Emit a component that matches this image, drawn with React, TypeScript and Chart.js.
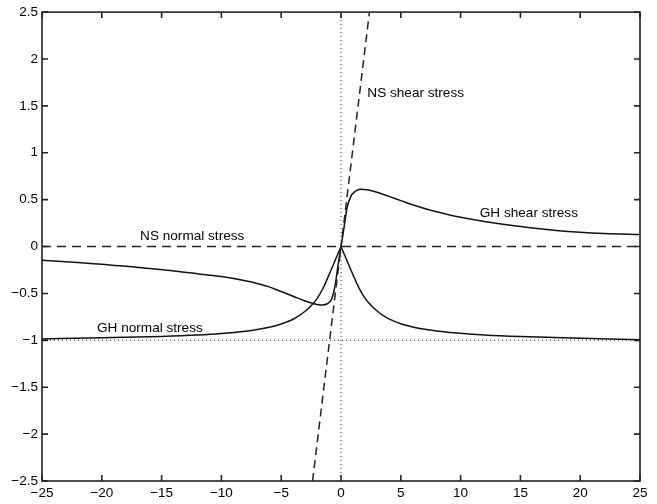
import { useEffect, useRef } from 'react';
import { Chart, registerables } from 'chart.js';

Chart.register(...registerables);

const X_TICKS = [-25, -20, -15, -10, -5, 0, 5, 10, 15, 20, 25];
const Y_TICKS = [-2.5, -2, -1.5, -1, -0.5, 0, 0.5, 1, 1.5, 2, 2.5];

// GH shear stress
const ghShearX = [-25, -22, -20, -18, -16, -14, -12, -10, -8, -6, -5, -4, -3, -2.4, -1.9, -1.5, -1.15, -0.9, -0.7, -0.5, -0.25, 0, 0.25, 0.5, 0.8, 1.2, 1.65, 2.2, 3, 4, 5, 6, 7, 8, 9, 10, 12, 14, 16, 18, 20, 22, 25];
const ghShearY = [-0.145, -0.17, -0.19, -0.21, -0.235, -0.26, -0.29, -0.32, -0.365, -0.43, -0.48, -0.53, -0.58, -0.605, -0.62, -0.622, -0.61, -0.585, -0.53, -0.42, -0.2, 0, 0.2, 0.41, 0.53, 0.59, 0.612, 0.605, 0.58, 0.535, 0.49, 0.445, 0.405, 0.37, 0.34, 0.313, 0.268, 0.23, 0.198, 0.172, 0.153, 0.14, 0.128];

// GH normal stress (left and right branches meet at the cusp at 0)
const ghNormalLeftX = [-25, -20, -15, -12, -10, -8, -7, -6, -5, -4, -3.5, -3, -2.5, -2, -1.5, -1, -0.6, -0.3, 0];
const ghNormalLeftY = [-0.985, -0.973, -0.958, -0.943, -0.927, -0.902, -0.884, -0.86, -0.825, -0.775, -0.737, -0.69, -0.632, -0.555, -0.445, -0.3, -0.18, -0.09, 0];
const ghNormalRightX = [0, 0.3, 0.6, 1, 1.5, 2, 2.5, 3, 3.5, 4, 5, 6, 7, 8, 10, 12, 15, 20, 25];
const ghNormalRightY = [0, -0.09, -0.18, -0.3, -0.44, -0.55, -0.625, -0.685, -0.735, -0.772, -0.823, -0.857, -0.882, -0.9, -0.925, -0.943, -0.96, -0.979, -0.993];

// NS shear stress (dashed straight line)
const nsShearX = [-2.38, 2.38];
const nsShearY = [-2.5, 2.5];

// NS normal stress (dashed zero line)
const nsNormalX = [-25, 25];
const nsNormalY = [0, 0];

// dotted reference lines
const refVertX = [0, 0];
const refVertY = [-2.5, 2.5];
const refHorzX = [-25, 25];
const refHorzY = [-1, -1];

// curve labels
const labelTexts = ['NS shear stress', 'GH shear stress', 'NS normal stress', 'GH normal stress'];
const labelX = [2.2, 11.6, -16.8, -20.4];
const labelY = [1.64, 0.36, 0.11, -0.875];

const FONT = '"Liberation Sans", Arial, Helvetica, sans-serif';

const pts = (xs: number[], ys: number[]) => xs.map((x, i) => ({ x, y: ys[i] }));
const fmt = (v: number) => (v < 0 ? '\u2212' : '') + String(Math.abs(v));

export default function App() {
  const ref = useRef<HTMLCanvasElement | null>(null);

  useEffect(() => {
    if (!ref.current) return;

    const framePlugin = {
      id: 'frame',
      afterDatasetsDraw(chart: any) {
        const { ctx, chartArea: a, scales } = chart;
        const xs = scales.x;
        const ys = scales.y;
        ctx.save();
        ctx.fillStyle = '#000';
        ctx.font = `13.6px ${FONT}`;
        ctx.textAlign = 'left';
        ctx.textBaseline = 'middle';
        labelTexts.forEach((t, i) => {
          ctx.fillText(t, xs.getPixelForValue(labelX[i]), ys.getPixelForValue(labelY[i]));
        });
        ctx.strokeStyle = '#222';
        ctx.lineWidth = 1.6;
        ctx.strokeRect(a.left, a.top, a.right - a.left, a.bottom - a.top);
        const L = 6;
        ctx.beginPath();
        X_TICKS.forEach((v) => {
          const p = xs.getPixelForValue(v);
          ctx.moveTo(p, a.bottom);
          ctx.lineTo(p, a.bottom - L);
          ctx.moveTo(p, a.top);
          ctx.lineTo(p, a.top + L);
        });
        Y_TICKS.forEach((v) => {
          const p = ys.getPixelForValue(v);
          ctx.moveTo(a.left, p);
          ctx.lineTo(a.left + L, p);
          ctx.moveTo(a.right, p);
          ctx.lineTo(a.right - L, p);
        });
        ctx.stroke();
        ctx.restore();
      },
    };

    const solid = (data: any) => ({
      data,
      showLine: true,
      borderColor: '#111',
      borderWidth: 1.5,
      pointRadius: 0,
      cubicInterpolationMode: 'monotone',
    });

    const chart = new Chart(ref.current, {
      type: 'scatter',
      data: {
        datasets: [
          {
            data: pts(refVertX, refVertY),
            showLine: true,
            borderColor: '#333',
            borderWidth: 1,
            borderDash: [1, 3],
            pointRadius: 0,
          },
          {
            data: pts(refHorzX, refHorzY),
            showLine: true,
            borderColor: '#333',
            borderWidth: 1,
            borderDash: [1, 3],
            pointRadius: 0,
          },
          {
            data: pts(nsNormalX, nsNormalY),
            showLine: true,
            borderColor: '#222',
            borderWidth: 1.5,
            borderDash: [9, 6],
            pointRadius: 0,
          },
          {
            data: pts(nsShearX, nsShearY),
            showLine: true,
            borderColor: '#222',
            borderWidth: 1.5,
            borderDash: [8, 5],
            pointRadius: 0,
          },
          solid(pts(ghShearX, ghShearY)),
          solid(pts(ghNormalLeftX, ghNormalLeftY)),
          solid(pts(ghNormalRightX, ghNormalRightY)),
        ] as any,
      },
      options: {
        animation: false,
        responsive: false,
        layout: { padding: { top: 12, right: 17, left: 0, bottom: 0 } },
        plugins: { legend: { display: false }, tooltip: { enabled: false } },
        scales: {
          x: {
            type: 'linear',
            min: -25,
            max: 25,
            afterBuildTicks: (s: any) => {
              s.ticks = X_TICKS.map((value) => ({ value }));
            },
            afterFit: (s: any) => {
              s.height = 23;
            },
            grid: { display: false, drawTicks: false },
            border: { display: false },
            ticks: {
              color: '#000',
              padding: 4,
              maxRotation: 0,
              autoSkip: false,
              font: { family: FONT, size: 13.5 },
              callback: (v: any) => fmt(Number(v)),
            },
          },
          y: {
            type: 'linear',
            min: -2.5,
            max: 2.5,
            afterBuildTicks: (s: any) => {
              s.ticks = Y_TICKS.map((value) => ({ value }));
            },
            afterFit: (s: any) => {
              s.width = 42;
            },
            grid: { display: false, drawTicks: false },
            border: { display: false },
            ticks: {
              color: '#000',
              padding: 4,
              autoSkip: false,
              font: { family: FONT, size: 13.5 },
              callback: (v: any) => fmt(Number(v)),
            },
          },
        },
      } as any,
      plugins: [framePlugin],
    });

    return () => chart.destroy();
  }, []);

  return (
    <div style={{ position: 'absolute', left: 0, top: 0, width: 657, height: 504, background: '#fff' }}>
      <canvas ref={ref} width={657} height={504} style={{ display: 'block' }} />
    </div>
  );
}
